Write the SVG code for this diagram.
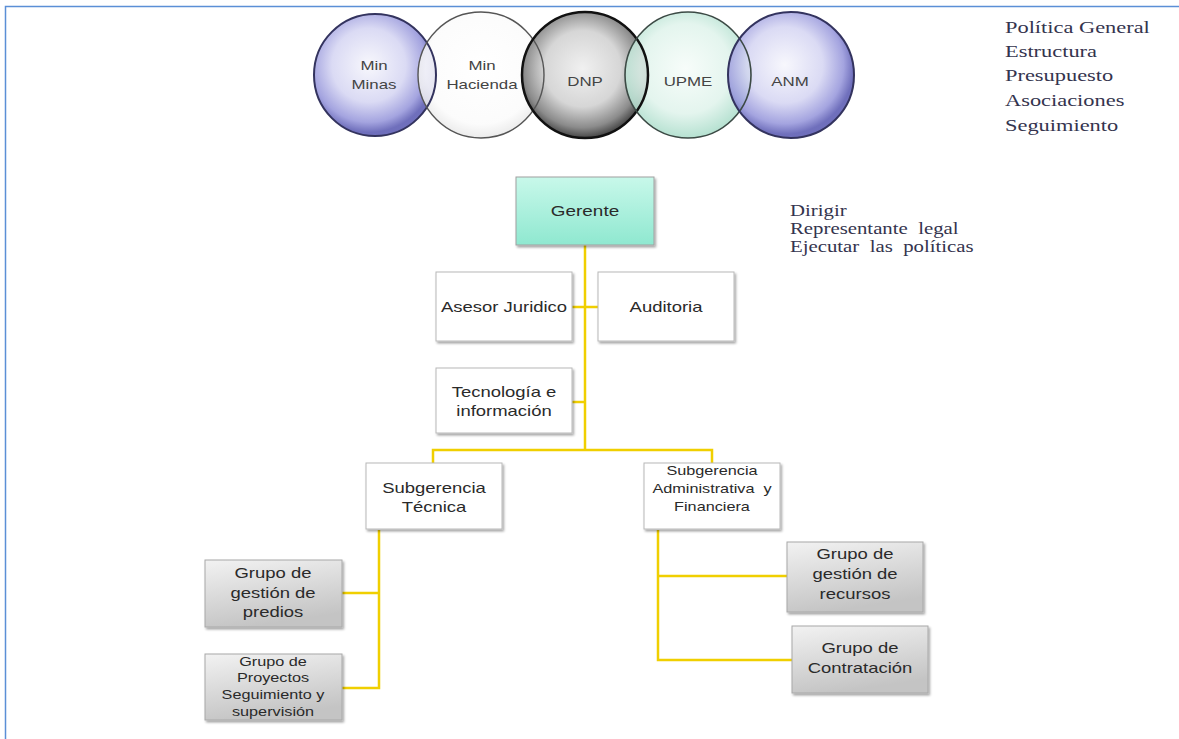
<svg xmlns="http://www.w3.org/2000/svg" width="1179" height="739" viewBox="0 0 1179 739">
<defs>
<radialGradient id="gPurple" cx="45%" cy="42%" r="55%">
<stop offset="0" stop-color="#f6f6fc"/><stop offset="0.55" stop-color="#d4d4f2"/><stop offset="0.85" stop-color="#9494da"/><stop offset="1" stop-color="#5656b0"/>
</radialGradient>
<radialGradient id="gGray" cx="48%" cy="45%" r="55%">
<stop offset="0" stop-color="#eeeeee"/><stop offset="0.55" stop-color="#cfcfcf"/><stop offset="0.85" stop-color="#777"/><stop offset="1" stop-color="#262626"/>
</radialGradient>
<radialGradient id="gMint" cx="48%" cy="45%" r="55%">
<stop offset="0" stop-color="#f6fcf9"/><stop offset="0.65" stop-color="#dff3eb"/><stop offset="1" stop-color="#a9dcc9"/>
</radialGradient>
<radialGradient id="gWhite" cx="50%" cy="45%" r="55%">
<stop offset="0" stop-color="#ffffff"/><stop offset="0.8" stop-color="#fbfbfb"/><stop offset="1" stop-color="#e8e8e8"/>
</radialGradient>
<linearGradient id="gTeal" x1="0" y1="0" x2="0" y2="1">
<stop offset="0" stop-color="#c8f8ea"/><stop offset="1" stop-color="#8fe8d0"/>
</linearGradient>
<linearGradient id="gBox" x1="0" y1="0" x2="0.3" y2="1">
<stop offset="0" stop-color="#f2f2f2"/><stop offset="1" stop-color="#c4c4c4"/>
</linearGradient>
<filter id="sh" x="-10%" y="-10%" width="125%" height="130%">
<feDropShadow dx="1.5" dy="2" stdDeviation="1.2" flood-color="#000" flood-opacity="0.35"/>
</filter>
<style>
.t{font-family:"Liberation Sans",Arial,sans-serif;fill:#2a2a2a;text-anchor:middle;font-size:14px;white-space:pre}
.m{font-size:12.5px}
.c{font-family:"Liberation Sans",Arial,sans-serif;fill:#444;font-size:12.5px;text-anchor:middle}
.s{font-family:"Liberation Serif","Times New Roman",serif;fill:#34344e;font-size:16px;white-space:pre}
.wb{fill:#fff;stroke:#b8b8b8;stroke-width:1;filter:url(#sh)}
.gb{fill:url(#gBox);stroke:#a8a8a8;stroke-width:1;filter:url(#sh)}
.ln{fill:none;stroke:#f0cf00;stroke-width:2.5}
.cf{fill-opacity:0.85}
</style>
</defs>
<rect width="1179" height="739" fill="#fff"/>
<path d="M5.5 739 V6.5 H1179" fill="none" stroke="#5b8fd6" stroke-width="1.5"/>

<g id="circles">
<g id="min-minas"><circle cx="375" cy="75" r="61" fill="url(#gPurple)" class="cf"/></g>
<g id="min-hacienda"><circle cx="481" cy="75" r="63" fill="url(#gWhite)" class="cf"/></g>
<g id="dnp"><circle cx="585" cy="75" r="63" fill="url(#gGray)" class="cf"/></g>
<g id="upme"><circle cx="688" cy="75" r="63" fill="url(#gMint)" class="cf"/></g>
<g id="anm"><circle cx="791" cy="75" r="63" fill="url(#gPurple)" class="cf"/></g>
<circle cx="375" cy="75" r="61" fill="none" stroke="#33335e" stroke-width="2"/>
<circle cx="481" cy="75" r="63" fill="none" stroke="#555" stroke-width="1.4"/>
<circle cx="585" cy="75" r="63" fill="none" stroke="#111" stroke-width="2.5"/>
<circle cx="688" cy="75" r="63" fill="none" stroke="#3c4a45" stroke-width="1.6"/>
<circle cx="791" cy="75" r="63" fill="none" stroke="#33335e" stroke-width="2"/>
<g transform="translate(374 0) scale(1.35 1)"><text class="c" x="0" y="70">Min</text><text class="c" x="0" y="89">Minas</text></g>
<g transform="translate(482 0) scale(1.35 1)"><text class="c" x="0" y="70">Min</text><text class="c" x="0" y="89">Hacienda</text></g>
<g transform="translate(585 0) scale(1.35 1)"><text class="c" x="0" y="86">DNP</text></g>
<g transform="translate(688 0) scale(1.35 1)"><text class="c" x="0" y="86">UPME</text></g>
<g transform="translate(790 0) scale(1.35 1)"><text class="c" x="0" y="86">ANM</text></g>
</g>

<g id="notes">
<g transform="translate(1005 0) scale(1.4 1)">
<text class="s" x="0" y="33">Política General</text>
<text class="s" x="0" y="57">Estructura</text>
<text class="s" x="0" y="81">Presupuesto</text>
<text class="s" x="0" y="106">Asociaciones</text>
<text class="s" x="0" y="131">Seguimiento</text>
</g>
<g transform="translate(790 0) scale(1.3 1)">
<text class="s" x="0" y="216">Dirigir</text>
<text class="s" x="0" y="234">Representante  legal</text>
<text class="s" x="0" y="252">Ejecutar  las  políticas</text>
</g>
</g>

<g id="connectors">
<path class="ln" d="M585 245 V450"/>
<path class="ln" d="M572 307 H598"/>
<path class="ln" d="M572 402 H585"/>
<path class="ln" d="M433 463 V450 H712 V463"/>
<path class="ln" d="M379 530 V688 H342 M379 593 H342"/>
<path class="ln" d="M658 530 V660 H792 M658 576 H787"/>
</g>

<g id="gerente"><rect x="516" y="177" width="138" height="68" fill="url(#gTeal)" stroke="#a0a0a0" filter="url(#sh)"/><g transform="translate(585 0) scale(1.35 1)"><text class="t" x="0" y="216">Gerente</text></g></g>
<g id="asesor"><rect class="wb" x="436" y="272" width="136" height="69"/><g transform="translate(504 0) scale(1.32 1)"><text class="t" x="0" y="312">Asesor Juridico</text></g></g>
<g id="auditoria"><rect class="wb" x="598" y="272" width="136" height="69"/><g transform="translate(666 0) scale(1.32 1)"><text class="t" x="0" y="312">Auditoria</text></g></g>
<g id="tecnologia"><rect class="wb" x="436" y="368" width="136" height="65"/><g transform="translate(504 0) scale(1.32 1)"><text class="t" x="0" y="397">Tecnología e</text><text class="t" x="0" y="416">información</text></g></g>
<g id="sub-tecnica"><rect class="wb" x="366" y="463" width="136" height="66"/><g transform="translate(434 0) scale(1.32 1)"><text class="t" x="0" y="493">Subgerencia</text><text class="t" x="0" y="512">Técnica</text></g></g>
<g id="sub-admin"><rect class="wb" x="644" y="463" width="136" height="66"/><g transform="translate(712 0) scale(1.3 1)"><text class="t m" x="0" y="475">Subgerencia</text><text class="t m" x="0" y="493">Administrativa  y</text><text class="t m" x="0" y="511">Financiera</text></g></g>
<g id="predios"><rect class="gb" x="205" y="560" width="137" height="67"/><g transform="translate(273 0) scale(1.32 1)"><text class="t" x="0" y="578">Grupo de</text><text class="t" x="0" y="598">gestión de</text><text class="t" x="0" y="617">predios</text></g></g>
<g id="proyectos"><rect class="gb" x="205" y="654" width="137" height="66"/><g transform="translate(273 0) scale(1.3 1)"><text class="t m" x="0" y="666">Grupo de</text><text class="t m" x="0" y="682">Proyectos</text><text class="t m" x="0" y="699">Seguimiento y</text><text class="t m" x="0" y="716">supervisión</text></g></g>
<g id="recursos"><rect class="gb" x="787" y="542" width="136" height="70"/><g transform="translate(855 0) scale(1.32 1)"><text class="t" x="0" y="559">Grupo de</text><text class="t" x="0" y="579">gestión de</text><text class="t" x="0" y="599">recursos</text></g></g>
<g id="contratacion"><rect class="gb" x="792" y="626" width="136" height="67"/><g transform="translate(860 0) scale(1.32 1)"><text class="t" x="0" y="653">Grupo de</text><text class="t" x="0" y="673">Contratación</text></g></g>
</svg>
